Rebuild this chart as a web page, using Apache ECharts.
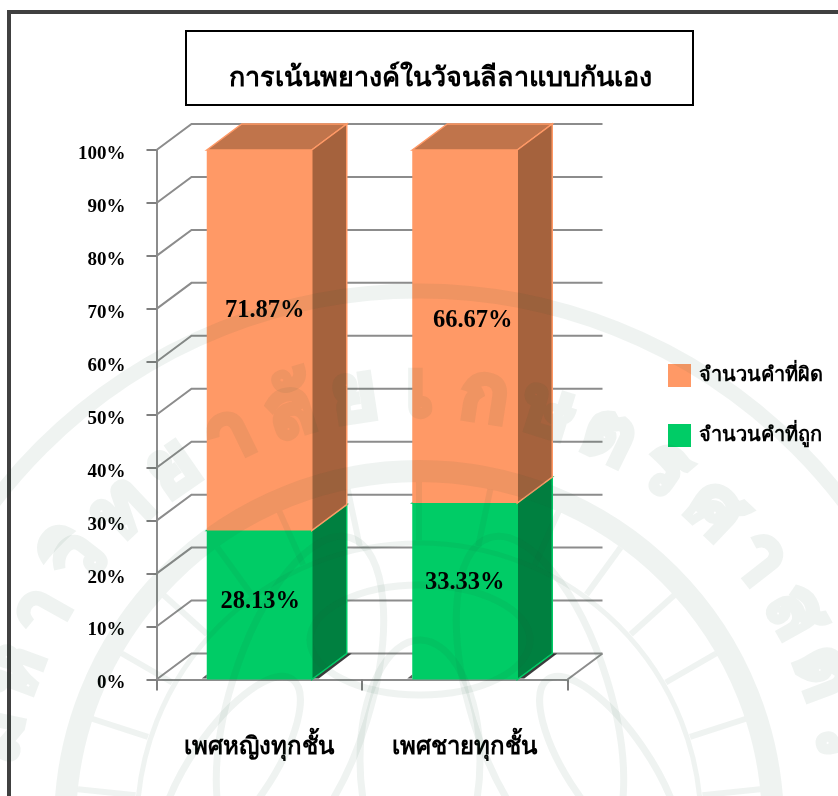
<!DOCTYPE html>
<html><head><meta charset="utf-8"><style>html,body{margin:0;background:#fff}#c{width:838px;height:796px}</style></head><body><div id="c"></div>
<script src="https://cdn.jsdelivr.net/npm/echarts@6/dist/echarts.min.js"></script>
<script>
const categories = ['เพศหญิงทุกชั้น', 'เพศชายทุกชั้น'];
const wrong = [71.87, 66.67];
const right = [28.13, 33.33];
const ticks = [0,10,20,30,40,50,60,70,80,90,100];
const sealGlyphs = ['ม','ห','า','วิ','ท','ย','า','ลั','ย','เ','ก','ษ','ต','ร','ศ','า','ส','ต','ร์'];
const DX = 35, DY = -26, BARW = 105;
const wmColor = 'rgba(30,90,50,0.07)';
const chart = echarts.init(document.getElementById('c'));
function wallItem(params, api){
  const v = api.value(0);
  const p = api.coord([0, v]);
  const x0 = params.coordSys.x, x1 = params.coordSys.x + params.coordSys.width;
  const st = {fill:null,stroke:'#8c8c8c',lineWidth:2};
  const ch = [{type:'polyline', shape:{points:[[x0,p[1]],[x0+DX,p[1]+DY],[x1+DX,p[1]+DY]]}, style:st}];
  if (v === 0) ch.push({type:'polyline', shape:{points:[[x1,p[1]],[x1+DX,p[1]+DY]]}, style:st});
  return {type:'group', children:ch};
}
function barItem(pal, off, floor){
  return function(params, api){
    const i = api.value(0), lo = api.value(1), hi = api.value(2);
    const b = api.coord([i, lo]), t = api.coord([i, hi]);
    const l = b[0]-BARW/2, r = b[0]+BARW/2;
    const ch = [];
    if (floor) {
      ch.push({type:'polygon', shape:{points:[[r,b[1]-1],[r+DX,b[1]+DY],[r+DX+5,b[1]+DY],[r+7,b[1]-1]]}, style:{fill:'rgba(25,25,25,0.85)'}});
      ch.push({type:'polygon', shape:{points:[[l-5,b[1]-1],[l,b[1]-5],[l,b[1]-1]]}, style:{fill:'rgba(25,25,25,0.7)'}});
    }
    ch.push(
      {type:'polygon', shape:{points:[[l,t[1]],[l+DX,t[1]+DY],[r+DX,t[1]+DY],[r,t[1]]]}, style:{fill:pal[1],stroke:pal[0],lineWidth:1.5}},
      {type:'polygon', shape:{points:[[r,t[1]],[r+DX,t[1]+DY],[r+DX,b[1]+DY],[r,b[1]]]}, style:{fill:pal[2],stroke:pal[0],lineWidth:1.5}},
      {type:'rect', shape:{x:l,y:t[1],width:BARW,height:b[1]-t[1]}, style:{fill:pal[0]}},
      {type:'text', z2:5, style:{text:api.value(3), x:b[0]+off[i][0], y:(t[1]+b[1])/2+off[i][1], align:'center', verticalAlign:'middle', font:'bold 24.5px "Liberation Serif"', fill:'#000'}}
    );
    return {type:'group', children:ch};
  };
}
const CX = 419, CY = 825;
const watermark = [
  {type:'circle', z:20, silent:true, shape:{cx:CX,cy:CY,r:534}, style:{fill:null,stroke:wmColor,lineWidth:15}},
  {type:'circle', z:20, silent:true, shape:{cx:CX,cy:CY,r:354}, style:{fill:null,stroke:wmColor,lineWidth:22}},
  {type:'circle', z:20, silent:true, shape:{cx:CX,cy:CY,r:282}, style:{fill:null,stroke:wmColor,lineWidth:5}}
];
sealGlyphs.forEach(function(g, k){
  const th = (-78 + k * (156/18)) * Math.PI/180;
  watermark.push({type:'text', z:20, silent:true, x:CX+432*Math.sin(th), y:CY-432*Math.cos(th), rotation:-th,
    style:{text:g, align:'center', verticalAlign:'middle', font:'bold 78px "Noto Sans","DejaVu Sans",sans-serif', fill:'rgba(0,0,0,0)', stroke:wmColor, lineWidth:6}});
});
for (let a=-96; a<=96; a+=12) {
  const th = a*Math.PI/180;
  watermark.push({type:'line', z:20, silent:true, shape:{x1:CX+285*Math.sin(th),y1:CY-285*Math.cos(th),x2:CX+343*Math.sin(th),y2:CY-343*Math.cos(th)}, style:{stroke:wmColor,lineWidth:6}});
}
[[300,700,70,170,-0.3],[540,700,70,170,0.3],[420,640,110,55,0],[420,760,60,120,0],[230,770,40,110,-0.6],[610,770,40,110,0.6]].forEach(function(e){
  watermark.push({type:'ellipse', z:20, silent:true, x:e[0], y:e[1], rotation:e[4], shape:{cx:0,cy:0,rx:e[2],ry:e[3]}, style:{fill:null,stroke:wmColor,lineWidth:7}});
});
chart.setOption({
  animation:false,
  title:{text:'การเน้นพยางค์ในวัจนลีลาแบบกันเอง', left:435, top:61, textAlign:'center', textStyle:{fontFamily:'"Liberation Serif","Noto Sans",serif',fontWeight:'bold',fontSize:27,color:'#000'}},
  legend:{orient:'vertical',left:668,top:364,padding:0,itemWidth:23,itemHeight:23,itemGap:37,icon:'rect',data:['จำนวนคำที่ผิด','จำนวนคำที่ถูก'],textStyle:{color:'#000',fontWeight:'bold',fontSize:20,padding:[0,0,0,3],fontFamily:'"Liberation Serif","Noto Sans",serif'}},
  graphic:[
    {type:'rect', z:-1, silent:true, shape:{x:186,y:31,width:507,height:74}, style:{fill:'#fff',stroke:'#000',lineWidth:2}},
    {type:'polyline', z:-1, silent:true, shape:{points:[[9,796],[9,12],[838,12]]}, style:{fill:null,stroke:'#404040',lineWidth:4}}
  ].concat(watermark),
  grid:{left:156.5,right:270.5,top:150,bottom:116.5},
  xAxis:{type:'category',data:categories,axisTick:{show:true,length:11,lineStyle:{color:'#7f7f7f',width:2}},axisLine:{lineStyle:{color:'#8c8c8c',width:2}},axisLabel:{margin:56,color:'#000',fontWeight:'bold',fontSize:24,fontFamily:'"Liberation Serif","Noto Sans",serif'}},
  yAxis:{type:'value',min:0,max:100,interval:10,splitLine:{show:false},axisLine:{show:true,lineStyle:{color:'#8c8c8c',width:2}},axisTick:{show:true,length:10,lineStyle:{color:'#7f7f7f',width:2}},axisLabel:{formatter:'{value}%',margin:31,verticalAlign:'top',lineHeight:8,color:'#000',fontWeight:'bold',fontSize:19,fontFamily:'"Liberation Serif"'}},
  series:[
    {type:'custom',coordinateSystem:'cartesian2d',clip:false,silent:true,renderItem:wallItem,data:ticks.map(v=>[v]),encode:{y:0},z:1},
    {name:'จำนวนคำที่ถูก',type:'custom',clip:false,itemStyle:{color:'#00CC66'},renderItem:barItem(['#00CC66','#00A050','#008040'],[[1,-3],[0,-9]],true),data:right.map((v,i)=>[i,0,v,v.toFixed(2)+'%']),encode:{x:0,y:[1,2]},z:2},
    {name:'จำนวนคำที่ผิด',type:'custom',clip:false,itemStyle:{color:'#FF9966'},renderItem:barItem(['#FF9966','#C0744B','#A5623D'],[[5.5,-30],[8,-6]],false),data:wrong.map((v,i)=>[i,right[i],right[i]+v,v.toFixed(2)+'%']),encode:{x:0,y:[1,2]},z:3}
  ]
});
</script></body></html>
